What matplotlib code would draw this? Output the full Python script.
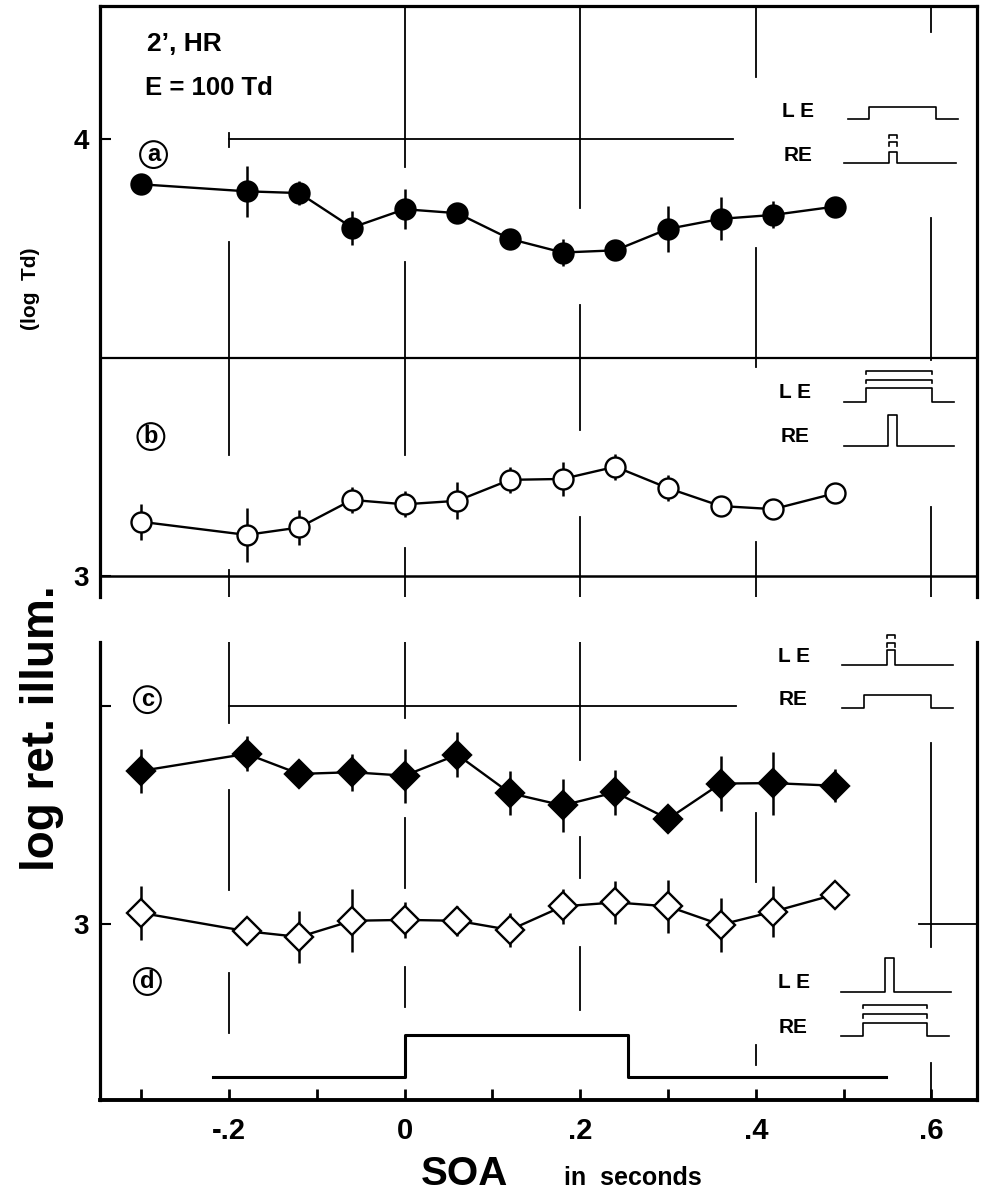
import matplotlib.pyplot as plt

plt.rcParams['font.family'] = ['Liberation Sans', 'DejaVu Sans']
plt.rcParams['font.weight'] = 'bold'

# stimulus onset asynchrony (s)
soa = [-0.30, -0.18, -0.12, -0.06, 0.0, 0.06, 0.12, 0.18, 0.24, 0.30, 0.36, 0.42, 0.49]

# threshold, log retinal illuminance
a_vals = [3.897, 3.881, 3.877, 3.798, 3.840, 3.831, 3.772, 3.741, 3.746, 3.795, 3.818, 3.827, 3.846]
a_err = [0, 0.059, 0.027, 0.039, 0.046, 0, 0, 0.030, 0, 0.052, 0.049, 0.031, 0]
b_vals = [3.125, 3.095, 3.112, 3.175, 3.165, 3.173, 3.221, 3.223, 3.251, 3.202, 3.161, 3.154, 3.190]
b_err = [0.041, 0.062, 0.041, 0.030, 0.030, 0.042, 0.030, 0.039, 0.030, 0.030, 0, 0, 0]
c_vals = [3.351, 3.390, 3.344, 3.348, 3.340, 3.388, 3.300, 3.272, 3.302, 3.241, 3.322, 3.323, 3.317]
c_err = [0.050, 0.040, 0, 0.042, 0.062, 0.052, 0.050, 0.060, 0.051, 0, 0.062, 0.072, 0.038]
d_vals = [3.026, 2.984, 2.971, 3.008, 3.010, 3.008, 2.987, 3.041, 3.050, 3.041, 2.999, 3.029, 3.068]
d_err = [0.061, 0, 0.059, 0.072, 0.041, 0.034, 0.038, 0.040, 0.050, 0.060, 0.062, 0.059, 0]

# conditioning field timing trace under panel d
step_x = [-0.218, 0.0, 0.255, 0.548]
step_lo, step_hi = 2.651, 2.747

xticks = [-0.3, -0.2, -0.1, 0.0, 0.1, 0.2, 0.3, 0.4, 0.5, 0.6]
xtick_labels = ['', '-.2', '', '0', '', '.2', '', '.4', '', '.6']

# broken vertical guide lines (x: list of (ymin, ymax))
top_guides = {
    -0.2: [(3.983, 4.015), (3.278, 3.765), (2.953, 3.015)],
    0.0: [(3.937, 4.305), (3.278, 3.720), (2.953, 3.065)],
    0.2: [(3.843, 4.305), (3.335, 3.621), (2.953, 3.136)],
    0.4: [(4.143, 4.305), (3.479, 3.752), (2.953, 3.079)],
    0.6: [(4.246, 4.305), (3.495, 3.820), (2.953, 3.159)],
}
bot_guides = {
    -0.2: [(3.460, 3.646), (3.079, 3.308), (2.752, 2.889)],
    0.0: [(3.473, 3.646), (3.084, 3.244), (2.811, 2.903)],
    0.2: [(3.377, 3.646), (3.106, 3.200), (2.804, 2.949)],
    0.4: [(3.097, 3.255), (2.678, 2.724)],
    0.6: [(2.949, 3.415), (2.598, 2.683)],
}

fig = plt.figure(figsize=(9.88, 11.93), dpi=100)
ax_top = fig.add_axes([0.1012, 0.4996, 0.8877, 0.4954])
ax_bot = fig.add_axes([0.1012, 0.0780, 0.8877, 0.3839])

ax_top.set_xlim(-0.347, 0.652)
ax_top.set_ylim(2.953, 4.305)
ax_bot.set_xlim(-0.347, 0.652)
ax_bot.set_ylim(2.598, 3.646)

for ax in (ax_top, ax_bot):
    for side in ('left', 'right', 'top', 'bottom'):
        ax.spines[side].set_linewidth(2.3)
ax_top.spines['bottom'].set_visible(False)
ax_bot.spines['top'].set_visible(False)
ax_bot.spines['bottom'].set_linewidth(2.8)


def draw_guides(ax, guides):
    for x, segs in guides.items():
        for lo, hi in segs:
            ax.plot([x, x], [lo, hi], color='k', lw=1.3, zorder=1)


def draw_series(ax, vals, err, marker, filled, ms):
    ax.plot(soa, vals, '-', color='k', lw=1.7, zorder=2)
    ax.errorbar(soa, vals, yerr=err, fmt='none', ecolor='k', elinewidth=1.8,
                capsize=0, zorder=2)
    ax.plot(soa, vals, ls='none', marker=marker, ms=ms,
            mfc='k' if filled else 'white', mec='k', mew=1.7, zorder=3)


def pulse(ax, x_start, x0, x1, x_end, base, top, stacks=(), lw=1.2):
    ax.plot([x_start, x0, x0, x1, x1, x_end], [base, base, top, top, base, base],
            color='k', lw=lw, clip_on=False, zorder=2)
    for s in stacks:
        ax.plot([x0, x0, x1, x1], [s - 0.008, s, s, s - 0.008],
                color='k', lw=lw, clip_on=False, zorder=2)


def circled(ax, x, y, letter):
    ax.text(x, y, letter, ha='center', va='center', fontsize=17, fontweight='bold',
            bbox=dict(boxstyle='circle,pad=0.08', fc='white', ec='k', lw=1.5))


def eye_labels(ax, x, y_le, y_re):
    ax.text(x, y_le, 'L E', fontsize=15, fontweight='bold', ha='center', va='center')
    ax.text(x, y_re, 'RE', fontsize=15, fontweight='bold', ha='center', va='center')


# ---- upper panel: a and b ----
draw_guides(ax_top, top_guides)
ax_top.plot([-0.2, 0.374], [4, 4], color='k', lw=1.3, zorder=1)
ax_top.axhline(3.5, color='k', lw=1.6, zorder=1)
ax_top.axhline(3.0, color='k', lw=1.8, zorder=1)

draw_series(ax_top, a_vals, a_err, 'o', True, 14.4)
draw_series(ax_top, b_vals, b_err, 'o', False, 14.4)

ax_top.text(-0.294, 4.219, '2\u2019, HR', fontsize=19, fontweight='bold',
            ha='left', va='center')
ax_top.text(-0.296, 4.118, 'E = 100 Td', fontsize=18.5, fontweight='bold',
            ha='left', va='center')
circled(ax_top, -0.286, 3.965, 'a')
circled(ax_top, -0.289, 3.320, 'b')

eye_labels(ax_top, 0.448, 4.064, 3.962)
pulse(ax_top, 0.505, 0.529, 0.605, 0.630, 4.046, 4.075)
pulse(ax_top, 0.501, 0.552, 0.561, 0.628, 3.946, 3.972, stacks=(3.993, 4.010))

eye_labels(ax_top, 0.445, 3.420, 3.320)
pulse(ax_top, 0.500, 0.526, 0.601, 0.626, 3.400, 3.431, stacks=(3.450, 3.471))
pulse(ax_top, 0.500, 0.551, 0.561, 0.626, 3.299, 3.370)

ax_top.set_xticks([])
ax_top.set_yticks([3, 4])
ax_top.set_yticklabels(['3', '4'])
ax_top.tick_params(axis='y', direction='in', length=8, width=1.5, labelsize=20, pad=8)

# ---- lower panel: c and d ----
draw_guides(ax_bot, bot_guides)
ax_bot.plot([-0.2, 0.377], [3.5, 3.5], color='k', lw=1.3, zorder=1)
ax_bot.plot([0.586, 0.652], [3.0, 3.0], color='k', lw=1.3, zorder=1)

draw_series(ax_bot, c_vals, c_err, 'D', True, 14.5)
draw_series(ax_bot, d_vals, d_err, 'D', False, 14.0)

ax_bot.plot(step_x, [step_lo, step_hi, step_lo, step_lo], drawstyle='steps-post',
            color='k', lw=2.2, zorder=2)

circled(ax_bot, -0.293, 3.514, 'c')
circled(ax_bot, -0.293, 2.869, 'd')

eye_labels(ax_bot, 0.443, 3.613, 3.515)
pulse(ax_bot, 0.4985, 0.550, 0.559, 0.625, 3.594, 3.628, stacks=(3.643, 3.662))
pulse(ax_bot, 0.4985, 0.523, 0.599, 0.625, 3.495, 3.524)

eye_labels(ax_bot, 0.443, 2.866, 2.763)
pulse(ax_bot, 0.497, 0.547, 0.557, 0.622, 2.846, 2.922)
pulse(ax_bot, 0.497, 0.522, 0.595, 0.620, 2.745, 2.774, stacks=(2.794, 2.816))

ax_bot.set_yticks([3.0, 3.5])
ax_bot.set_yticklabels(['3', ''])
ax_bot.tick_params(axis='y', direction='in', length=8, width=1.5, labelsize=20, pad=8)
ax_bot.set_xticks(xticks)
ax_bot.set_xticklabels(xtick_labels)
ax_bot.tick_params(axis='x', direction='in', length=8, width=2, labelsize=21, pad=12)

# axis titles
fig.text(0.043, 0.39, 'log ret. illum.', rotation=90, fontsize=33, fontweight='bold',
         ha='center', va='center')
fig.text(0.031, 0.758, '(log  Td)', rotation=90, fontsize=15, fontweight='bold',
         ha='center', va='center')
fig.text(0.470, 0.007, 'SOA', fontsize=29, fontweight='bold', ha='center', va='baseline')
fig.text(0.641, 0.007, 'in  seconds', fontsize=18, fontweight='bold', ha='center',
         va='baseline')

fig.savefig('out.png', dpi=100, facecolor='white')
